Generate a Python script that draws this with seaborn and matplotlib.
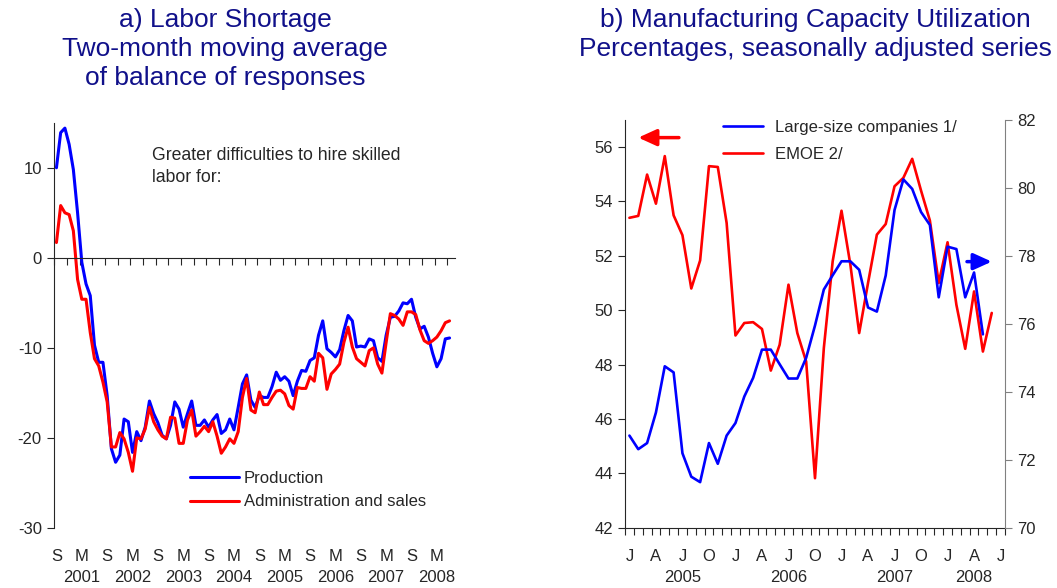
import numpy as np
import pandas as pd
import matplotlib
matplotlib.use('Agg')
import matplotlib.pyplot as plt
import seaborn as sns

# a) Labor shortage, monthly from Sep 2000 to Jun 2008
production = [10.0, 13.9, 14.4, 12.6, 9.8, 5.0, -0.5, -2.9, -4.2, -9.7,
              -11.6, -11.6, -15.3, -21.2, -22.7, -21.9, -17.9, -18.2, -21.6, -19.3,
              -20.3, -18.8, -15.9, -17.3, -18.3, -19.7, -20.1, -18.6, -16.0, -16.8,
              -18.8, -17.3, -15.9, -18.6, -18.6, -18.0, -18.8, -18.0, -17.4, -19.5,
              -19.1, -17.9, -19.1, -16.6, -14.0, -13.0, -15.8, -16.6, -15.3, -15.5,
              -15.5, -14.3, -12.7, -13.6, -13.2, -13.7, -15.3, -13.7, -12.5, -12.6,
              -11.4, -11.1, -8.6, -7.0, -10.1, -10.5, -11.0, -10.2, -8.1, -6.4,
              -7.0, -9.9, -9.8, -9.9, -9.0, -9.2, -11.1, -11.5, -8.6, -6.6,
              -6.5, -5.9, -5.0, -5.1, -4.6, -6.6, -7.9, -7.6, -8.8, -10.6,
              -12.1, -11.2, -9.0, -8.9]
admin_sales = [1.7, 5.8, 5.0, 4.8, 3.0, -2.4, -4.6, -4.6, -8.3, -11.2,
               -12.0, -13.8, -16.0, -21.0, -21.0, -19.4, -20.1, -21.6, -23.7, -20.0,
               -20.1, -19.0, -16.6, -18.2, -19.1, -19.8, -20.1, -17.7, -17.8, -20.6,
               -20.6, -18.0, -16.9, -19.8, -19.3, -18.7, -19.3, -18.2, -19.8, -21.7,
               -21.0, -20.1, -20.6, -19.3, -15.5, -13.4, -16.9, -17.2, -14.9, -16.3,
               -16.3, -15.5, -14.8, -14.7, -15.1, -16.4, -16.8, -14.4, -14.5, -14.5,
               -13.2, -13.7, -10.6, -11.1, -14.6, -12.9, -12.4, -11.8, -9.4, -7.7,
               -9.9, -11.2, -11.6, -12.0, -10.3, -10.0, -11.8, -12.8, -9.4, -6.2,
               -6.4, -6.8, -7.5, -6.0, -6.0, -6.3, -8.0, -9.2, -9.5, -9.2,
               -8.8, -8.1, -7.2, -7.0]
labor_labels = ['S', 'M\n2001', 'S', 'M\n2002', 'S', 'M\n2003', 'S', 'M\n2004',
                'S', 'M\n2005', 'S', 'M\n2006', 'S', 'M\n2007', 'S', 'M\n2008']

# b) Capacity utilization, monthly from Jan 2005 to Jun 2008
emoe = [53.40, 53.47, 54.99, 53.92, 55.67, 53.49, 52.76, 50.80, 51.83, 55.30,
        55.27, 53.21, 49.07, 49.53, 49.56, 49.31, 47.78, 48.73, 50.94, 49.16,
        48.11, 43.82, 48.61, 51.80, 53.66, 51.68, 49.16, 51.00, 52.78, 53.17,
        54.56, 54.87, 55.57, 54.40, 53.30, 51.00, 52.50, 50.20, 48.58, 50.69,
        48.48, 49.90]
large_cos = [72.71, 72.31, 72.49, 73.39, 74.75, 74.57, 72.19, 71.50, 71.34, 72.49,
             71.88, 72.71, 73.08, 73.86, 74.41, 75.24, 75.24, 74.81, 74.39, 74.39,
             75.00, 75.95, 77.01, 77.43, 77.84, 77.84, 77.59, 76.48, 76.36, 77.42,
             79.35, 80.25, 79.97, 79.29, 78.91, 76.78, 78.27, 78.20, 76.78, 77.51,
             75.69]
cap_labels = ['J', 'A', 'J\n2005', 'O', 'J', 'A', 'J\n2006', 'O',
              'J', 'A', 'J\n2007', 'O', 'J', 'A\n2008', 'J']

BLUE = '#0000ff'
RED = '#ff0000'
NAVY = '#10108a'

sns.set_style('ticks')
plt.rcParams['font.family'] = ['Liberation Sans', 'DejaVu Sans']
plt.rcParams['axes.unicode_minus'] = False
plt.rcParams['axes.linewidth'] = 0.8
plt.rcParams['xtick.labelsize'] = 12
plt.rcParams['ytick.labelsize'] = 12

fig = plt.figure(figsize=(10.57, 5.88), dpi=100)

# ---- panel a
ax1 = fig.add_axes([0.0514, 0.1020, 0.3791, 0.6893])
df_lab = pd.DataFrame({'month': np.arange(len(production)),
                       'Production': production,
                       'Administration and sales': admin_sales})
sns.lineplot(data=df_lab, x='month', y='Production', color=BLUE, lw=2.2,
             label='Production', legend=False, ax=ax1)
sns.lineplot(data=df_lab, x='month', y='Administration and sales', color=RED, lw=2.2,
             label='Administration and sales', legend=False, ax=ax1)
ax1.set_xlim(-0.5, 94.3)
ax1.set_ylim(-30, 15)
ax1.set_yticks([-30, -20, -10, 0, 10])
ax1.set_xlabel('')
ax1.set_ylabel('')
ax1.spines[['top', 'right']].set_visible(False)
ax1.spines['bottom'].set_position(('data', 0))
ax1.set_xticks(np.arange(-0.5, 94, 3))
ax1.tick_params(axis='x', length=5, width=0.8, labelbottom=False)
ax1.tick_params(axis='y', length=5, width=0.8, pad=4)

# month / year labels sit under the plot, not on the zero line
sec = ax1.secondary_xaxis('bottom')
sec.set_xticks(np.arange(0, len(labor_labels) * 6, 6), labor_labels)
sec.tick_params(length=0, pad=15)
sec.spines['bottom'].set_visible(False)
for lbl in sec.get_xticklabels():
    lbl.set_linespacing(1.55)

ax1.legend(loc='center left', bbox_to_anchor=(0.339, 0.093), frameon=False,
           fontsize=12, handlelength=2.9, handletextpad=0.3,
           borderpad=0, borderaxespad=0)
ax1.text(0.244, 0.94, 'Greater difficulties to hire skilled\nlabor for:',
         transform=ax1.transAxes, va='top', ha='left', fontsize=12.7,
         linespacing=1.42)

# ---- panel b
ax2 = fig.add_axes([0.5913, 0.1026, 0.3595, 0.6934])
ax3 = ax2.twinx()
months_b = np.arange(len(emoe))
sns.lineplot(x=months_b, y=emoe, color=RED, lw=1.9, label='EMOE 2/',
             legend=False, ax=ax2)
sns.lineplot(x=months_b[:len(large_cos)], y=large_cos, color=BLUE, lw=1.9,
             label='Large-size companies 1/', legend=False, ax=ax3)
ax2.set_xlim(-0.5, 42.5)
ax2.set_ylim(42, 57)
ax2.set_yticks(np.arange(42, 57, 2))
ax3.set_ylim(70, 82)
ax3.set_yticks(np.arange(70, 83, 2))
ax2.set_xticks(np.arange(0, 43, 3), cap_labels)
ax2.set_xticks(np.arange(-0.5, 43, 1), minor=True)
ax2.tick_params(axis='x', which='major', length=0, pad=15)
ax2.tick_params(axis='x', which='minor', length=5, width=0.8)
ax2.tick_params(axis='y', length=5, width=0.8)
ax3.tick_params(axis='y', length=5, width=0.8, color='#808080')
for lbl in ax2.get_xticklabels():
    lbl.set_linespacing(1.55)
for a in (ax2, ax3):
    a.set_xlabel('')
    a.set_ylabel('')
ax2.spines[['top', 'right']].set_visible(False)
ax3.spines[['top', 'left', 'bottom']].set_visible(False)
ax3.spines['right'].set_color('#808080')

h_red = ax2.get_lines()[0]
h_blue = ax3.get_lines()[0]
ax3.legend([h_blue, h_red], ['Large-size companies 1/', 'EMOE 2/'],
           loc='center left', bbox_to_anchor=(0.258, 0.948), frameon=False,
           fontsize=12, handlelength=2.4, handletextpad=0.7, labelspacing=0.7,
           borderpad=0, borderaxespad=0)

# arrows pointing to the axis each series belongs to
ax2.annotate('', xy=(1.0, 56.35), xytext=(5.6, 56.35),
             arrowprops=dict(arrowstyle='-|>,head_length=0.55,head_width=0.25',
                             color=RED, lw=2.5, mutation_scale=20,
                             shrinkA=0, shrinkB=0))
ax3.annotate('', xy=(41.0, 77.83), xytext=(38.2, 77.83),
             arrowprops=dict(arrowstyle='-|>,head_length=0.55,head_width=0.25',
                             color=BLUE, lw=2.5, mutation_scale=20,
                             shrinkA=0, shrinkB=0))

# titles
fig.text(0.2129, 0.987, 'a) Labor Shortage\nTwo-month moving average\nof balance of responses',
         ha='center', va='top', fontsize=19, color=NAVY, linespacing=1.27)
fig.text(0.771, 0.987, 'b) Manufacturing Capacity Utilization\nPercentages, seasonally adjusted series',
         ha='center', va='top', fontsize=19, color=NAVY, linespacing=1.27)

fig.savefig('out.png', dpi=100)
